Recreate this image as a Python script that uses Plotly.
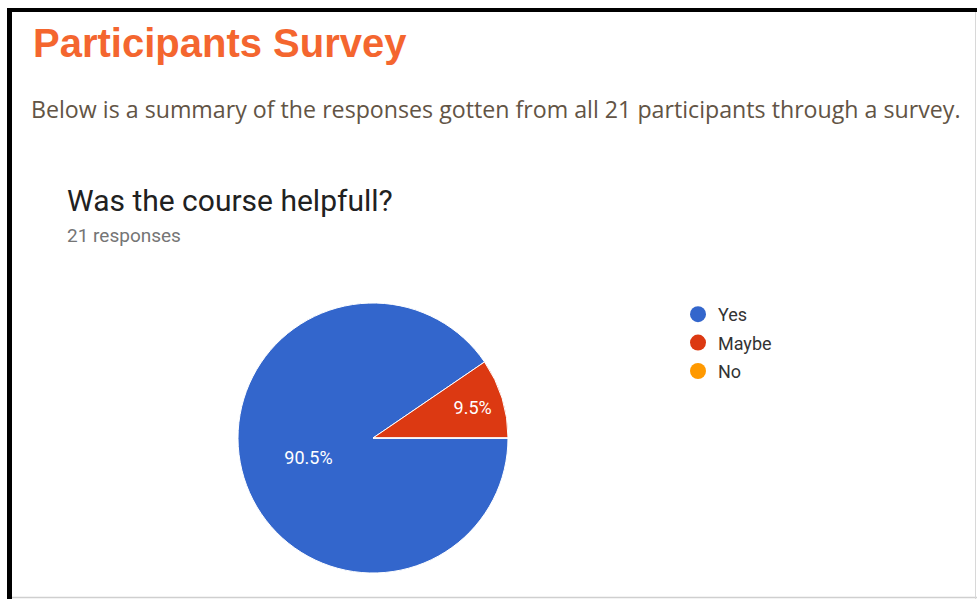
import plotly.graph_objects as go

W, H = 977, 599

# Data
categories = ["Yes", "Maybe", "No"]
responses = [19, 2, 0]
colors = ["#3366CC", "#DC3912", "#FF9900"]
page_title = "Participants Survey"
page_subtitle = "Below is a summary of the responses gotten from all 21 participants through a survey."
question = "Was the course helpfull?"
response_note = "21 responses"


def px(x):
    return x / W


def py(y):
    return 1 - y / H


fig = go.Figure()

cx, cy, r = 373, 438, 135
fig.add_trace(go.Pie(
    labels=categories,
    values=responses,
    marker=dict(colors=colors, line=dict(color="white", width=1)),
    sort=False,
    direction="clockwise",
    rotation=90,
    textinfo="percent",
    texttemplate="%{percent:.1%}",
    textposition="inside",
    insidetextorientation="horizontal",
    textfont=dict(family="Roboto", size=18, color="white"),
    domain=dict(x=[px(cx - r), px(cx + r)], y=[py(cy + r), py(cy - r)]),
    showlegend=False,
    hoverinfo="label+value+percent",
))

# legend entries with circle markers
for cat, col in zip(categories, colors):
    fig.add_trace(go.Scatter(
        x=[None], y=[None], mode="markers", name=cat, legendgroup=cat,
        marker=dict(color=col, size=16, symbol="circle"),
        showlegend=True,
    ))

shapes = [
    # black frame top & left
    dict(type="rect", xref="paper", yref="paper", x0=px(7), x1=px(977), y0=py(12), y1=py(8),
         fillcolor="black", line=dict(width=0), layer="above"),
    dict(type="rect", xref="paper", yref="paper", x0=px(7), x1=px(12), y0=py(599), y1=py(8),
         fillcolor="black", line=dict(width=0), layer="above"),
    # faint gray edges
    dict(type="line", xref="paper", yref="paper", x0=px(12), x1=px(977), y0=py(597.5), y1=py(597.5),
         line=dict(color="#cfcfcf", width=1.5)),
    dict(type="line", xref="paper", yref="paper", x0=px(975.5), x1=px(975.5), y0=py(12), y1=py(599),
         line=dict(color="#d8d8d8", width=1)),
]

annotations = [
    dict(text=f"<b>{page_title}</b>", x=px(31), y=py(43), xref="paper", yref="paper",
         xanchor="left", yanchor="middle", showarrow=False,
         font=dict(family="Liberation Sans", size=40, color="#F4662F")),
    dict(text=page_subtitle, x=px(29), y=py(109), xref="paper", yref="paper",
         xanchor="left", yanchor="middle", showarrow=False,
         font=dict(family="Open Sans", size=23.2, color="#625445")),
    dict(text=question, x=px(65), y=py(200), xref="paper", yref="paper",
         xanchor="left", yanchor="middle", showarrow=False,
         font=dict(family="Roboto", size=30, color="#212121")),
    dict(text=response_note, x=px(65), y=py(235), xref="paper", yref="paper",
         xanchor="left", yanchor="middle", showarrow=False,
         font=dict(family="Roboto", size=19, color="#757575")),
]

fig.update_layout(
    width=W, height=H,
    margin=dict(l=0, r=0, t=0, b=0),
    paper_bgcolor="white", plot_bgcolor="white",
    xaxis=dict(visible=False), yaxis=dict(visible=False),
    shapes=shapes, annotations=annotations,
    legend=dict(x=px(678), y=py(296), xanchor="left", yanchor="top",
                font=dict(family="Roboto", size=18, color="#333333"),
                tracegroupgap=2,
                bgcolor="rgba(0,0,0,0)"),
)

fig.write_html("out.html")
